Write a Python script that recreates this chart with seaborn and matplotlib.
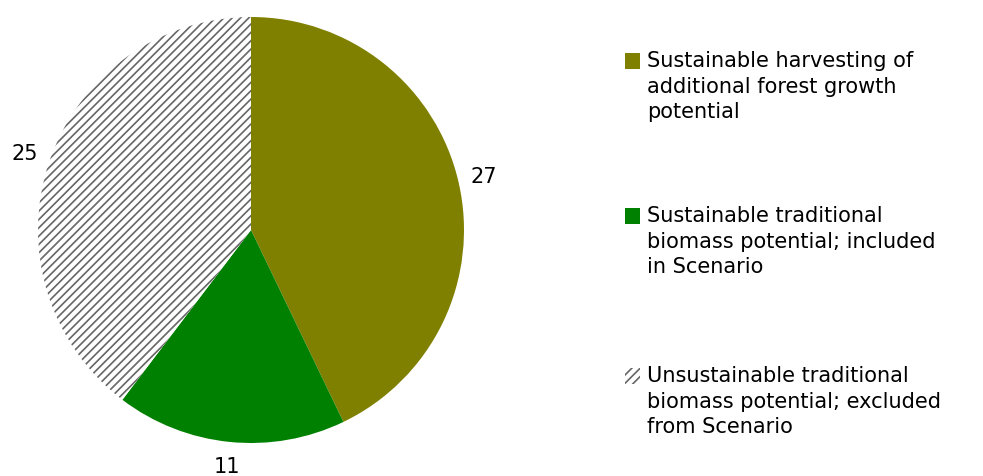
import matplotlib
matplotlib.use("Agg")
import matplotlib.pyplot as plt
from matplotlib.patches import Rectangle
import seaborn as sns

# Ma'lumotlar
qiymatlar = [27, 11, 25]
nomlar = [
    "Sustainable harvesting of\nadditional forest growth\npotential",
    "Sustainable traditional\nbiomass potential; included\nin Scenario",
    "Unsustainable traditional\nbiomass potential; excluded\nfrom Scenario",
]
ranglar = ["#808000", "#008000", "#ffffff"]
shtrix = [None, None, "////"]

sns.set_theme(style="white")
plt.rcParams["font.family"] = ["DejaVu Sans"]
plt.rcParams["hatch.linewidth"] = 1.2

fig = plt.figure(figsize=(9.83, 4.76), dpi=100)
ax = fig.add_axes([38 / 983, (476 - 230 - 213) / 476, 426 / 983, 426 / 476])

wedges, texts = ax.pie(
    qiymatlar,
    labels=[str(v) for v in qiymatlar],
    colors=ranglar,
    startangle=90,
    counterclock=False,
    labeldistance=1.12,
    wedgeprops=dict(linewidth=0),
    textprops=dict(fontsize=15, color="black"),
)
for w, h in zip(wedges, shtrix):
    if h:
        w.set_hatch(h)
        w.set_edgecolor("#666666")
        w.set_linewidth(0)
for t in texts:
    t.set_ha("center")
ax.set_xlim(-1, 1)
ax.set_ylim(-1, 1)
ax.set_aspect("equal")

# Legenda (qo'lda)
W, H = 983, 476
tepa = [53, 208, 368]
for w, nom, y, h in zip(wedges, nomlar, tepa, shtrix):
    fig.patches.append(Rectangle(
        (625 / W, 1 - (y + 16) / H), 15 / W, 16 / H,
        transform=fig.transFigure, facecolor=w.get_facecolor(),
        hatch=h, edgecolor="#666666" if h else "none", linewidth=0))
    fig.text(647 / W, 1 - (y - 2) / H, nom, fontsize=15, color="black",
             va="top", ha="left", linespacing=1.35)

fig.savefig("out.png", dpi=100)
